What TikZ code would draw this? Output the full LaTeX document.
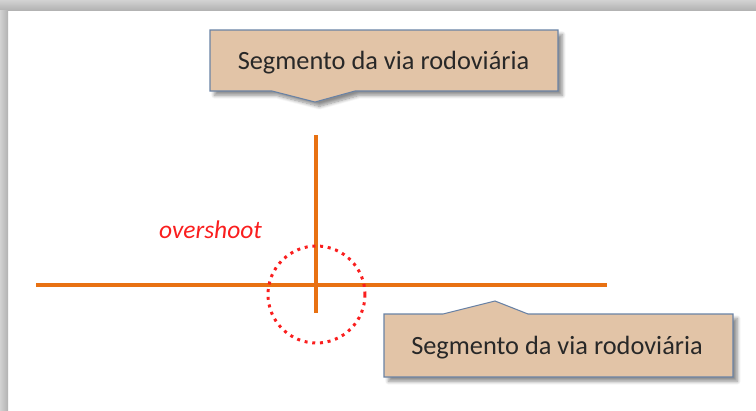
\documentclass[tikz,border=0pt]{standalone}
\usepackage{fontspec}
\setmainfont{Carlito}
\usetikzlibrary{shadows.blur}
\definecolor{roadorange}{RGB}{232,113,18}
\definecolor{calloutfill}{RGB}{226,196,167}
\definecolor{calloutedge}{RGB}{105,130,165}
\definecolor{shootred}{RGB}{250,30,30}
\definecolor{notetext}{RGB}{40,40,40}

\begin{document}
\begin{tikzpicture}[x=0.02cm, y=-0.02cm, font=\fontsize{15}{18}\selectfont,
		callout/.style={fill=calloutfill, draw=calloutedge, line width=0.6pt,
			blur shadow={shadow xshift=2.5pt, shadow yshift=-2.5pt, shadow blur steps=8, shadow opacity=45}},
		road/.style={draw=roadorange, line width=2.2pt},
		note/.style={text=notetext, anchor=base, inner sep=0pt}]
		\useasboundingbox (0,0) rectangle (756,410);
		% screenshot frame
		\shade[top color=gray!35, bottom color=gray!60] (0,0) rectangle (756,10);
		\shade[left color=gray!35, right color=gray!60] (0,10) rectangle (8,410);
		\coordinate (vtop) at (316,135);   % upper end of the cut segment
		\coordinate (vbot) at (316,313);   % overshoot end
		\coordinate (hleft) at (36,285);
		\coordinate (hright) at (607,285);
		\draw[road] (hleft) -- (hright);
		\draw[road] (vtop) -- (vbot);
		\draw[shootred, line width=1.7pt, dash pattern=on 1.7pt off 2.7pt] (316.5,294.5) circle (0.97cm);
		\node[note, text=shootred, font=\fontsize{14.5}{17}\selectfont\itshape] (shoot) at (210.5,238) {overshoot};
		% callouts
		\draw[callout] (210,30) -- (558,30) -- (558,91) -- (355,91) -- (315,102) -- (272,91) -- (210,91) -- cycle;
		\node[note] (topnote) at (383.5,69) {Segmento da via rodoviária};
		\draw[callout] (384,314) -- (443,314) -- (495,301) -- (528,314) -- (733,314) -- (733,377) -- (384,377) -- cycle;
		\node[note] (botnote) at (557,354) {Segmento da via rodoviária};
	\end{tikzpicture}
\end{document}
